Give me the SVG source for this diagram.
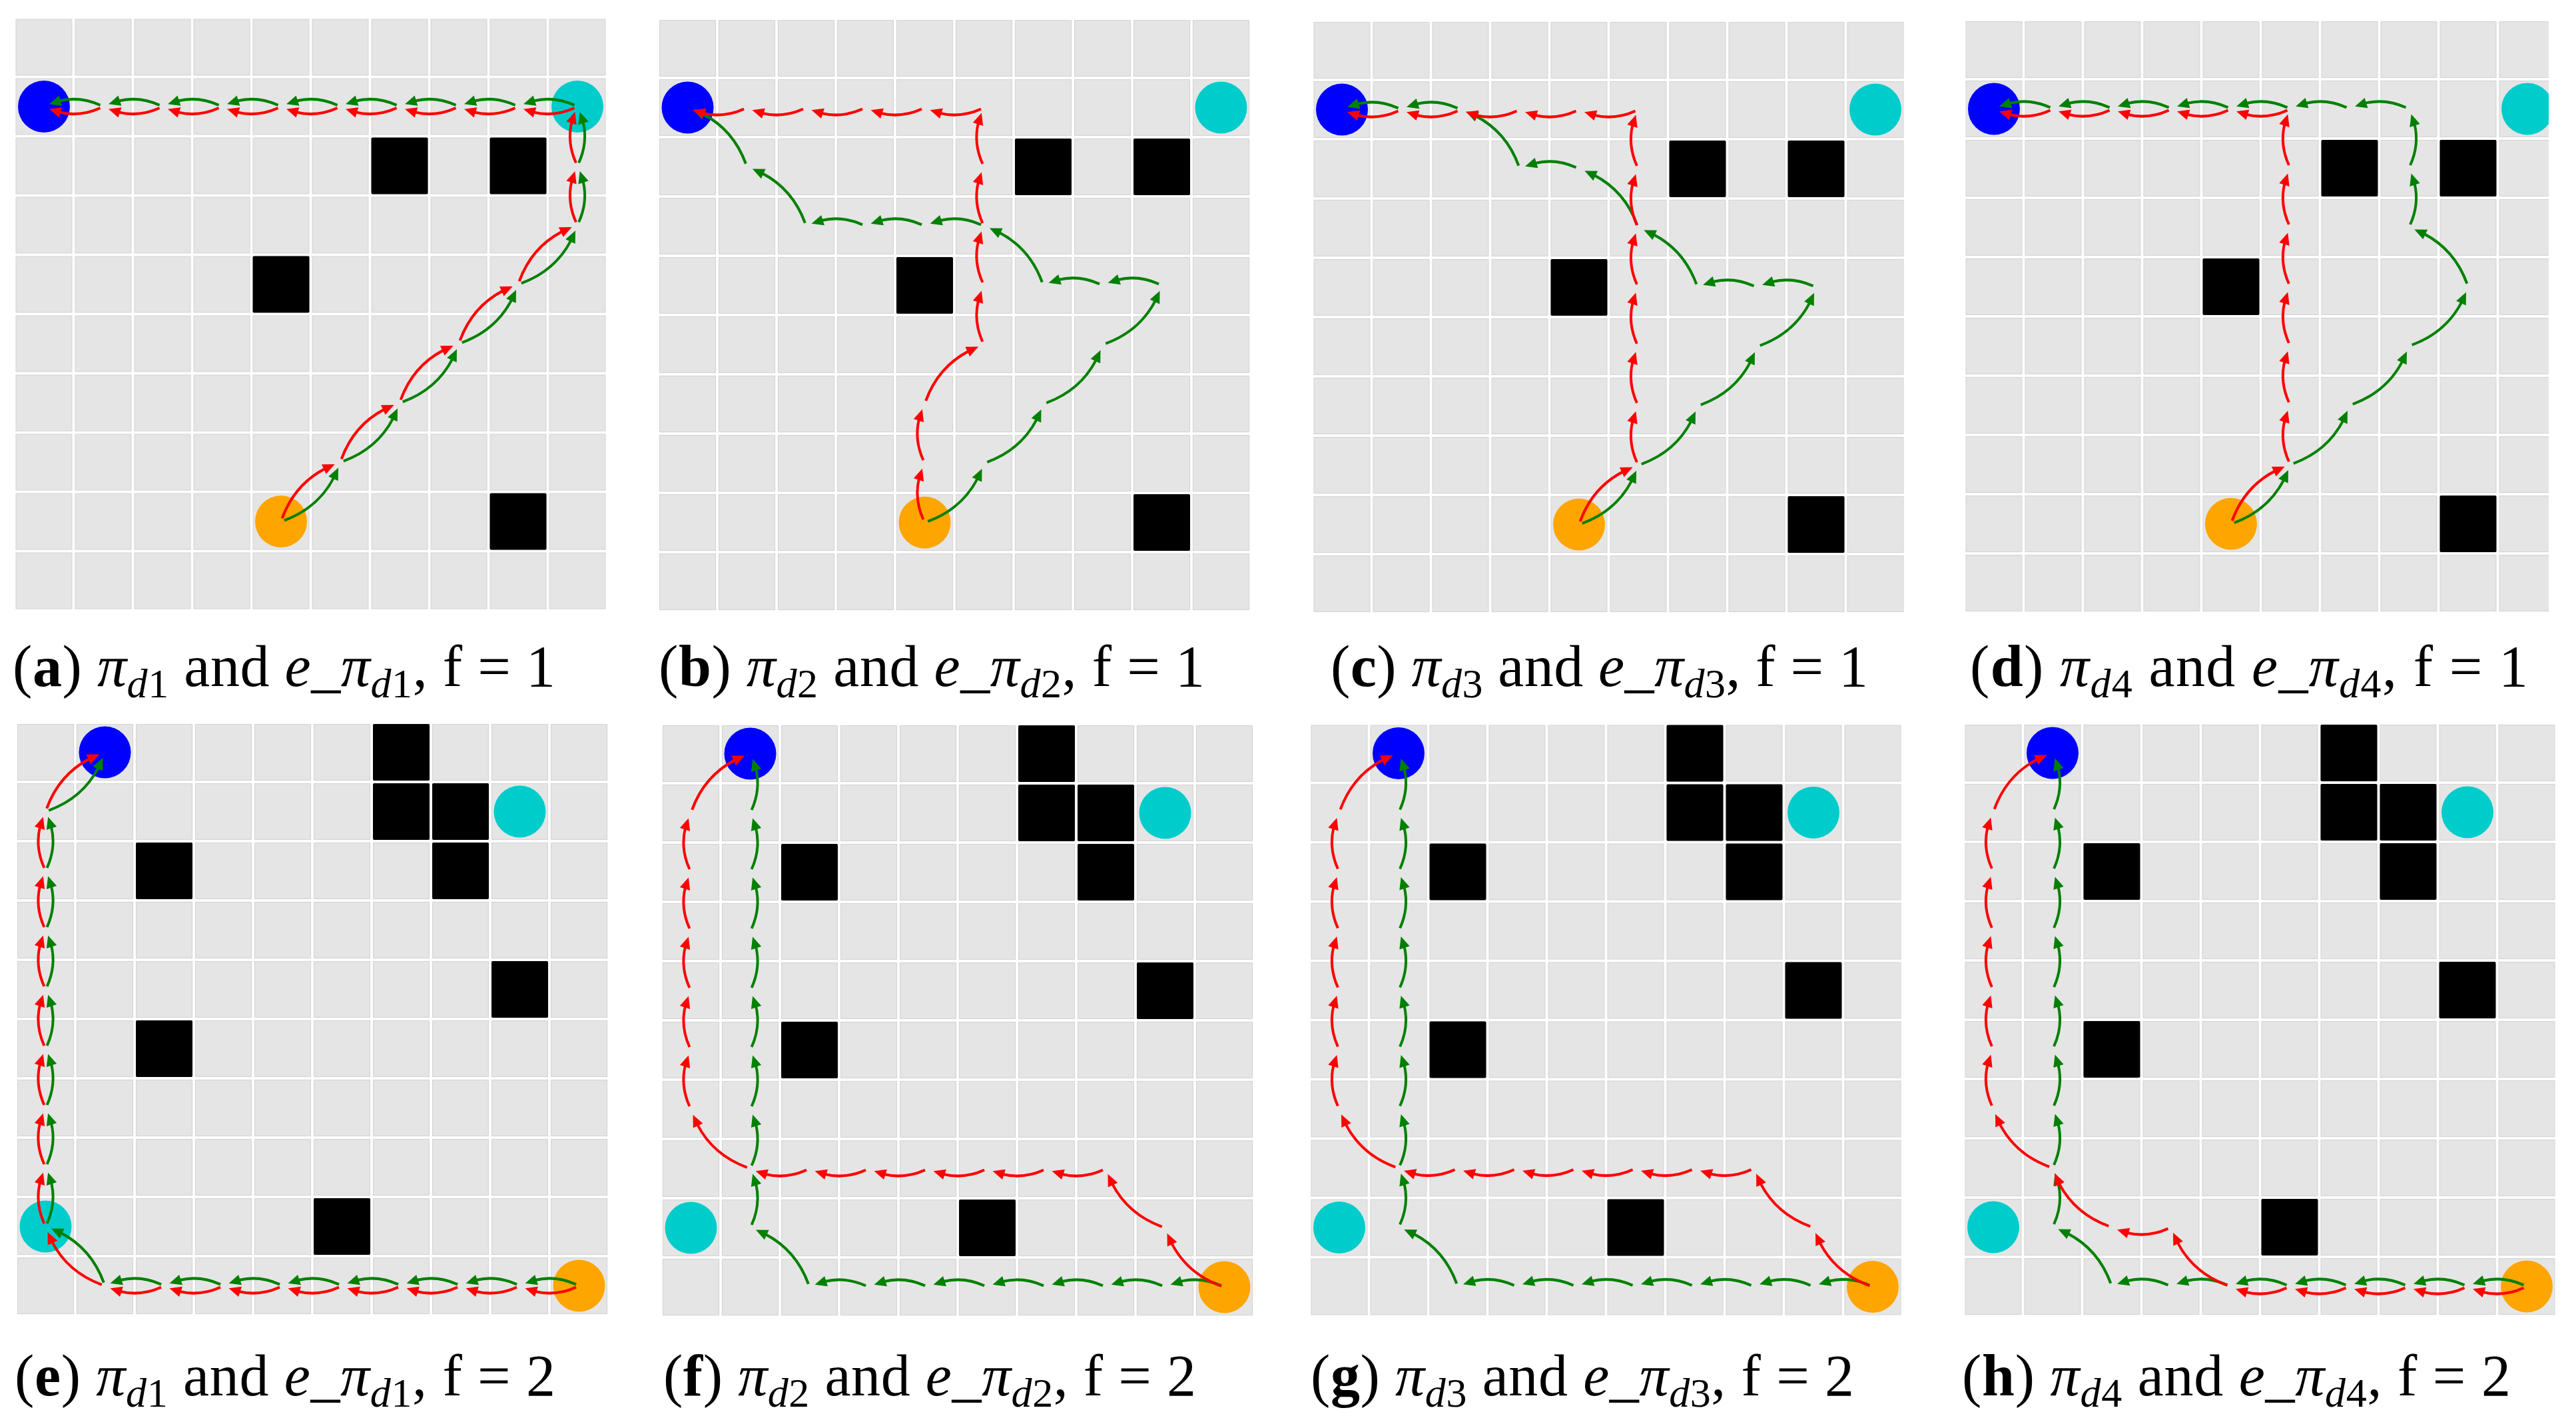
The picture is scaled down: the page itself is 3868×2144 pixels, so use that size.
<svg xmlns="http://www.w3.org/2000/svg" xmlns:xlink="http://www.w3.org/1999/xlink" width="3868" height="2144" viewBox="0 0 3868 2144">
<style>
.ob{fill:#000}
.blue{fill:#0000ff}
.cyan{fill:#00cccc}
.orange{fill:#ffa500}
.lr{fill:none;stroke:#ff0000;stroke-width:4}
.hr{fill:#ff0000}
.lg{fill:none;stroke:#008000;stroke-width:4}
.hg{fill:#008000}
.cap{font-family:"Liberation Serif","Times New Roman",serif;font-size:88px;fill:#000}
.sub{font-size:62px}
.it{font-style:italic}
.bf{font-weight:bold}
</style>
<defs>
<pattern id="cells" width="89" height="89" patternUnits="userSpaceOnUse"><rect x="2.5" y="2.5" width="84" height="84" fill="#e5e5e5" stroke="#d6d6d6" stroke-width="1.2"/></pattern>
<g id="or"><path class="lr" d="M4.45,-2.11Q35.15,-15.93 65.86,-8.56"/><path class="hr" d="M80.95,-3.66L66.4,-16.62L61.6,-1.36Z"/></g>
<g id="og"><path class="lg" d="M4.45,2.11Q35.15,15.93 65.86,8.56"/><path class="hg" d="M80.95,3.66L66.4,16.62L61.6,1.36Z"/></g>
<g id="dr"><path class="lr" d="M4.53,-2.18Q53.68,-24.99 102.86,-9.41"/><path class="hr" d="M117.84,-3.77L103.68,-17.52L98.14,-2.5Z"/></g>
<g id="dg"><path class="lg" d="M4.53,2.18Q53.68,24.99 102.86,9.41"/><path class="hg" d="M117.84,3.77L103.68,17.52L98.14,2.5Z"/></g>
<clipPath id="clipd"><rect x="-30" y="-30" width="907.5" height="960"/></clipPath>
</defs>
<rect width="3868" height="2144" fill="#fff"/>

<!-- Panel a -->
<g id="panel-a" transform="translate(21.5 26.5)">
<rect width="890" height="890" fill="url(#cells)"/>
<g id="a-obstacles"><rect class="ob" x="536" y="180" width="85" height="85" rx="2"/><rect class="ob" x="714" y="180" width="85" height="85" rx="2"/><rect class="ob" x="358" y="358" width="85" height="85" rx="2"/><rect class="ob" x="714" y="714" width="85" height="85" rx="2"/></g>
<g id="a-blue"><circle class="blue" cx="44.5" cy="133.5" r="39"/></g>
<g id="a-cyan"><circle class="cyan" cx="845.5" cy="133.5" r="39"/></g>
<g id="a-orange"><circle class="orange" cx="400.5" cy="756.5" r="39"/></g>
<g id="a-paths">
<use href="#dg" transform="translate(400.5 756.5) rotate(-45)"/>
<use href="#dg" transform="translate(489.5 667.5) rotate(-45)"/>
<use href="#dg" transform="translate(578.5 578.5) rotate(-45)"/>
<use href="#dg" transform="translate(667.5 489.5) rotate(-45)"/>
<use href="#dg" transform="translate(756.5 400.5) rotate(-45)"/>
<use href="#og" transform="translate(845.5 311.5) rotate(-90)"/>
<use href="#og" transform="translate(845.5 222.5) rotate(-90)"/>
<use href="#og" transform="translate(845.5 133.5) rotate(180)"/>
<use href="#og" transform="translate(756.5 133.5) rotate(180)"/>
<use href="#og" transform="translate(667.5 133.5) rotate(180)"/>
<use href="#og" transform="translate(578.5 133.5) rotate(180)"/>
<use href="#og" transform="translate(489.5 133.5) rotate(180)"/>
<use href="#og" transform="translate(400.5 133.5) rotate(180)"/>
<use href="#og" transform="translate(311.5 133.5) rotate(180)"/>
<use href="#og" transform="translate(222.5 133.5) rotate(180)"/>
<use href="#og" transform="translate(133.5 133.5) rotate(180)"/>
<use href="#dr" transform="translate(400.5 756.5) rotate(-45)"/>
<use href="#dr" transform="translate(489.5 667.5) rotate(-45)"/>
<use href="#dr" transform="translate(578.5 578.5) rotate(-45)"/>
<use href="#dr" transform="translate(667.5 489.5) rotate(-45)"/>
<use href="#dr" transform="translate(756.5 400.5) rotate(-45)"/>
<use href="#or" transform="translate(845.5 311.5) rotate(-90)"/>
<use href="#or" transform="translate(845.5 222.5) rotate(-90)"/>
<use href="#or" transform="translate(845.5 133.5) rotate(180)"/>
<use href="#or" transform="translate(756.5 133.5) rotate(180)"/>
<use href="#or" transform="translate(667.5 133.5) rotate(180)"/>
<use href="#or" transform="translate(578.5 133.5) rotate(180)"/>
<use href="#or" transform="translate(489.5 133.5) rotate(180)"/>
<use href="#or" transform="translate(400.5 133.5) rotate(180)"/>
<use href="#or" transform="translate(311.5 133.5) rotate(180)"/>
<use href="#or" transform="translate(222.5 133.5) rotate(180)"/>
<use href="#or" transform="translate(133.5 133.5) rotate(180)"/>
</g>
</g>

<!-- Panel b -->
<g id="panel-b" transform="translate(988 28)">
<rect width="890" height="890" fill="url(#cells)"/>
<g id="b-obstacles"><rect class="ob" x="536" y="180" width="85" height="85" rx="2"/><rect class="ob" x="714" y="180" width="85" height="85" rx="2"/><rect class="ob" x="358" y="358" width="85" height="85" rx="2"/><rect class="ob" x="714" y="714" width="85" height="85" rx="2"/></g>
<g id="b-blue"><circle class="blue" cx="44.5" cy="133.5" r="39"/></g>
<g id="b-cyan"><circle class="cyan" cx="845.5" cy="133.5" r="39"/></g>
<g id="b-orange"><circle class="orange" cx="400.5" cy="756.5" r="39"/></g>
<g id="b-paths">
<use href="#dg" transform="translate(400.5 756.5) rotate(-45)"/>
<use href="#dg" transform="translate(489.5 667.5) rotate(-45)"/>
<use href="#dg" transform="translate(578.5 578.5) rotate(-45)"/>
<use href="#dg" transform="translate(667.5 489.5) rotate(-45)"/>
<use href="#og" transform="translate(756.5 400.5) rotate(180)"/>
<use href="#og" transform="translate(667.5 400.5) rotate(180)"/>
<use href="#dg" transform="translate(578.5 400.5) rotate(-135)"/>
<use href="#og" transform="translate(489.5 311.5) rotate(180)"/>
<use href="#og" transform="translate(400.5 311.5) rotate(180)"/>
<use href="#og" transform="translate(311.5 311.5) rotate(180)"/>
<use href="#dg" transform="translate(222.5 311.5) rotate(-135)"/>
<use href="#dg" transform="translate(133.5 222.5) rotate(-135)"/>
<use href="#or" transform="translate(400.5 756.5) rotate(-90)"/>
<use href="#or" transform="translate(400.5 667.5) rotate(-90)"/>
<use href="#dr" transform="translate(400.5 578.5) rotate(-45)"/>
<use href="#or" transform="translate(489.5 489.5) rotate(-90)"/>
<use href="#or" transform="translate(489.5 400.5) rotate(-90)"/>
<use href="#or" transform="translate(489.5 311.5) rotate(-90)"/>
<use href="#or" transform="translate(489.5 222.5) rotate(-90)"/>
<use href="#or" transform="translate(489.5 133.5) rotate(180)"/>
<use href="#or" transform="translate(400.5 133.5) rotate(180)"/>
<use href="#or" transform="translate(311.5 133.5) rotate(180)"/>
<use href="#or" transform="translate(222.5 133.5) rotate(180)"/>
<use href="#or" transform="translate(133.5 133.5) rotate(180)"/>
</g>
</g>

<!-- Panel c -->
<g id="panel-c" transform="translate(1970.5 31)">
<rect width="890" height="890" fill="url(#cells)"/>
<g id="c-obstacles"><rect class="ob" x="536" y="180" width="85" height="85" rx="2"/><rect class="ob" x="714" y="180" width="85" height="85" rx="2"/><rect class="ob" x="358" y="358" width="85" height="85" rx="2"/><rect class="ob" x="714" y="714" width="85" height="85" rx="2"/></g>
<g id="c-blue"><circle class="blue" cx="44.5" cy="133.5" r="39"/></g>
<g id="c-cyan"><circle class="cyan" cx="845.5" cy="133.5" r="39"/></g>
<g id="c-orange"><circle class="orange" cx="400.5" cy="756.5" r="39"/></g>
<g id="c-paths">
<use href="#dg" transform="translate(400.5 756.5) rotate(-45)"/>
<use href="#dg" transform="translate(489.5 667.5) rotate(-45)"/>
<use href="#dg" transform="translate(578.5 578.5) rotate(-45)"/>
<use href="#dg" transform="translate(667.5 489.5) rotate(-45)"/>
<use href="#og" transform="translate(756.5 400.5) rotate(180)"/>
<use href="#og" transform="translate(667.5 400.5) rotate(180)"/>
<use href="#dg" transform="translate(578.5 400.5) rotate(-135)"/>
<use href="#dg" transform="translate(489.5 311.5) rotate(-135)"/>
<use href="#og" transform="translate(400.5 222.5) rotate(180)"/>
<use href="#dg" transform="translate(311.5 222.5) rotate(-135)"/>
<use href="#og" transform="translate(222.5 133.5) rotate(180)"/>
<use href="#og" transform="translate(133.5 133.5) rotate(180)"/>
<use href="#dr" transform="translate(400.5 756.5) rotate(-45)"/>
<use href="#or" transform="translate(489.5 667.5) rotate(-90)"/>
<use href="#or" transform="translate(489.5 578.5) rotate(-90)"/>
<use href="#or" transform="translate(489.5 489.5) rotate(-90)"/>
<use href="#or" transform="translate(489.5 400.5) rotate(-90)"/>
<use href="#or" transform="translate(489.5 311.5) rotate(-90)"/>
<use href="#or" transform="translate(489.5 222.5) rotate(-90)"/>
<use href="#or" transform="translate(489.5 133.5) rotate(180)"/>
<use href="#or" transform="translate(400.5 133.5) rotate(180)"/>
<use href="#or" transform="translate(311.5 133.5) rotate(180)"/>
<use href="#or" transform="translate(222.5 133.5) rotate(180)"/>
<use href="#or" transform="translate(133.5 133.5) rotate(180)"/>
</g>
</g>

<!-- Panel d -->
<g id="panel-d" transform="translate(2949.5 30)" clip-path="url(#clipd)">
<rect width="890" height="890" fill="url(#cells)"/>
<g id="d-obstacles"><rect class="ob" x="536" y="180" width="85" height="85" rx="2"/><rect class="ob" x="714" y="180" width="85" height="85" rx="2"/><rect class="ob" x="358" y="358" width="85" height="85" rx="2"/><rect class="ob" x="714" y="714" width="85" height="85" rx="2"/></g>
<g id="d-blue"><circle class="blue" cx="44.5" cy="133.5" r="39"/></g>
<g id="d-cyan"><circle class="cyan" cx="845.5" cy="133.5" r="39"/></g>
<g id="d-orange"><circle class="orange" cx="400.5" cy="756.5" r="39"/></g>
<g id="d-paths">
<use href="#dg" transform="translate(400.5 756.5) rotate(-45)"/>
<use href="#dg" transform="translate(489.5 667.5) rotate(-45)"/>
<use href="#dg" transform="translate(578.5 578.5) rotate(-45)"/>
<use href="#dg" transform="translate(667.5 489.5) rotate(-45)"/>
<use href="#dg" transform="translate(756.5 400.5) rotate(-135)"/>
<use href="#og" transform="translate(667.5 311.5) rotate(-90)"/>
<use href="#og" transform="translate(667.5 222.5) rotate(-90)"/>
<use href="#og" transform="translate(667.5 133.5) rotate(180)"/>
<use href="#og" transform="translate(578.5 133.5) rotate(180)"/>
<use href="#og" transform="translate(489.5 133.5) rotate(180)"/>
<use href="#og" transform="translate(400.5 133.5) rotate(180)"/>
<use href="#og" transform="translate(311.5 133.5) rotate(180)"/>
<use href="#og" transform="translate(222.5 133.5) rotate(180)"/>
<use href="#og" transform="translate(133.5 133.5) rotate(180)"/>
<use href="#dr" transform="translate(400.5 756.5) rotate(-45)"/>
<use href="#or" transform="translate(489.5 667.5) rotate(-90)"/>
<use href="#or" transform="translate(489.5 578.5) rotate(-90)"/>
<use href="#or" transform="translate(489.5 489.5) rotate(-90)"/>
<use href="#or" transform="translate(489.5 400.5) rotate(-90)"/>
<use href="#or" transform="translate(489.5 311.5) rotate(-90)"/>
<use href="#or" transform="translate(489.5 222.5) rotate(-90)"/>
<use href="#or" transform="translate(489.5 133.5) rotate(180)"/>
<use href="#or" transform="translate(400.5 133.5) rotate(180)"/>
<use href="#or" transform="translate(311.5 133.5) rotate(180)"/>
<use href="#or" transform="translate(222.5 133.5) rotate(180)"/>
<use href="#or" transform="translate(133.5 133.5) rotate(180)"/>
</g>
</g>

<!-- Panel e -->
<g id="panel-e" transform="translate(24 1085)">
<rect width="890" height="890" fill="url(#cells)"/>
<g id="e-obstacles"><rect class="ob" x="536" y="2" width="85" height="85" rx="2"/><rect class="ob" x="536" y="91" width="85" height="85" rx="2"/><rect class="ob" x="625" y="91" width="85" height="85" rx="2"/><rect class="ob" x="625" y="180" width="85" height="85" rx="2"/><rect class="ob" x="180" y="180" width="85" height="85" rx="2"/><rect class="ob" x="714" y="358" width="85" height="85" rx="2"/><rect class="ob" x="180" y="447" width="85" height="85" rx="2"/><rect class="ob" x="447" y="714" width="85" height="85" rx="2"/></g>
<g id="e-blue"><circle class="blue" cx="133.5" cy="44.5" r="39"/></g>
<g id="e-cyan1"><circle class="cyan" cx="756.5" cy="133.5" r="39"/></g>
<g id="e-cyan2"><circle class="cyan" cx="44.5" cy="756.5" r="39"/></g>
<g id="e-orange"><circle class="orange" cx="845.5" cy="845.5" r="39"/></g>
<g id="e-paths">
<use href="#og" transform="translate(845.5 845.5) rotate(180)"/>
<use href="#og" transform="translate(756.5 845.5) rotate(180)"/>
<use href="#og" transform="translate(667.5 845.5) rotate(180)"/>
<use href="#og" transform="translate(578.5 845.5) rotate(180)"/>
<use href="#og" transform="translate(489.5 845.5) rotate(180)"/>
<use href="#og" transform="translate(400.5 845.5) rotate(180)"/>
<use href="#og" transform="translate(311.5 845.5) rotate(180)"/>
<use href="#og" transform="translate(222.5 845.5) rotate(180)"/>
<use href="#dg" transform="translate(133.5 845.5) rotate(-135)"/>
<use href="#og" transform="translate(44.5 756.5) rotate(-90)"/>
<use href="#og" transform="translate(44.5 667.5) rotate(-90)"/>
<use href="#og" transform="translate(44.5 578.5) rotate(-90)"/>
<use href="#og" transform="translate(44.5 489.5) rotate(-90)"/>
<use href="#og" transform="translate(44.5 400.5) rotate(-90)"/>
<use href="#og" transform="translate(44.5 311.5) rotate(-90)"/>
<use href="#og" transform="translate(44.5 222.5) rotate(-90)"/>
<use href="#dg" transform="translate(44.5 133.5) rotate(-45)"/>
<use href="#or" transform="translate(845.5 845.5) rotate(180)"/>
<use href="#or" transform="translate(756.5 845.5) rotate(180)"/>
<use href="#or" transform="translate(667.5 845.5) rotate(180)"/>
<use href="#or" transform="translate(578.5 845.5) rotate(180)"/>
<use href="#or" transform="translate(489.5 845.5) rotate(180)"/>
<use href="#or" transform="translate(400.5 845.5) rotate(180)"/>
<use href="#or" transform="translate(311.5 845.5) rotate(180)"/>
<use href="#or" transform="translate(222.5 845.5) rotate(180)"/>
<use href="#dr" transform="translate(133.5 845.5) rotate(-135)"/>
<use href="#or" transform="translate(44.5 756.5) rotate(-90)"/>
<use href="#or" transform="translate(44.5 667.5) rotate(-90)"/>
<use href="#or" transform="translate(44.5 578.5) rotate(-90)"/>
<use href="#or" transform="translate(44.5 489.5) rotate(-90)"/>
<use href="#or" transform="translate(44.5 400.5) rotate(-90)"/>
<use href="#or" transform="translate(44.5 311.5) rotate(-90)"/>
<use href="#or" transform="translate(44.5 222.5) rotate(-90)"/>
<use href="#dr" transform="translate(44.5 133.5) rotate(-45)"/>
</g>
</g>

<!-- Panel f -->
<g id="panel-f" transform="translate(993 1087)">
<rect width="890" height="890" fill="url(#cells)"/>
<g id="f-obstacles"><rect class="ob" x="536" y="2" width="85" height="85" rx="2"/><rect class="ob" x="536" y="91" width="85" height="85" rx="2"/><rect class="ob" x="625" y="91" width="85" height="85" rx="2"/><rect class="ob" x="625" y="180" width="85" height="85" rx="2"/><rect class="ob" x="180" y="180" width="85" height="85" rx="2"/><rect class="ob" x="714" y="358" width="85" height="85" rx="2"/><rect class="ob" x="180" y="447" width="85" height="85" rx="2"/><rect class="ob" x="447" y="714" width="85" height="85" rx="2"/></g>
<g id="f-blue"><circle class="blue" cx="133.5" cy="44.5" r="39"/></g>
<g id="f-cyan1"><circle class="cyan" cx="756.5" cy="133.5" r="39"/></g>
<g id="f-cyan2"><circle class="cyan" cx="44.5" cy="756.5" r="39"/></g>
<g id="f-orange"><circle class="orange" cx="845.5" cy="845.5" r="39"/></g>
<g id="f-paths">
<use href="#og" transform="translate(845.5 845.5) rotate(180)"/>
<use href="#og" transform="translate(756.5 845.5) rotate(180)"/>
<use href="#og" transform="translate(667.5 845.5) rotate(180)"/>
<use href="#og" transform="translate(578.5 845.5) rotate(180)"/>
<use href="#og" transform="translate(489.5 845.5) rotate(180)"/>
<use href="#og" transform="translate(400.5 845.5) rotate(180)"/>
<use href="#og" transform="translate(311.5 845.5) rotate(180)"/>
<use href="#dg" transform="translate(222.5 845.5) rotate(-135)"/>
<use href="#og" transform="translate(133.5 756.5) rotate(-90)"/>
<use href="#og" transform="translate(133.5 667.5) rotate(-90)"/>
<use href="#og" transform="translate(133.5 578.5) rotate(-90)"/>
<use href="#og" transform="translate(133.5 489.5) rotate(-90)"/>
<use href="#og" transform="translate(133.5 400.5) rotate(-90)"/>
<use href="#og" transform="translate(133.5 311.5) rotate(-90)"/>
<use href="#og" transform="translate(133.5 222.5) rotate(-90)"/>
<use href="#og" transform="translate(133.5 133.5) rotate(-90)"/>
<use href="#dr" transform="translate(845.5 845.5) rotate(-135)"/>
<use href="#dr" transform="translate(756.5 756.5) rotate(-135)"/>
<use href="#or" transform="translate(667.5 667.5) rotate(180)"/>
<use href="#or" transform="translate(578.5 667.5) rotate(180)"/>
<use href="#or" transform="translate(489.5 667.5) rotate(180)"/>
<use href="#or" transform="translate(400.5 667.5) rotate(180)"/>
<use href="#or" transform="translate(311.5 667.5) rotate(180)"/>
<use href="#or" transform="translate(222.5 667.5) rotate(180)"/>
<use href="#dr" transform="translate(133.5 667.5) rotate(-135)"/>
<use href="#or" transform="translate(44.5 578.5) rotate(-90)"/>
<use href="#or" transform="translate(44.5 489.5) rotate(-90)"/>
<use href="#or" transform="translate(44.5 400.5) rotate(-90)"/>
<use href="#or" transform="translate(44.5 311.5) rotate(-90)"/>
<use href="#or" transform="translate(44.5 222.5) rotate(-90)"/>
<use href="#dr" transform="translate(44.5 133.5) rotate(-45)"/>
</g>
</g>

<!-- Panel g -->
<g id="panel-g" transform="translate(1966.5 1086.5)">
<rect width="890" height="890" fill="url(#cells)"/>
<g id="g-obstacles"><rect class="ob" x="536" y="2" width="85" height="85" rx="2"/><rect class="ob" x="536" y="91" width="85" height="85" rx="2"/><rect class="ob" x="625" y="91" width="85" height="85" rx="2"/><rect class="ob" x="625" y="180" width="85" height="85" rx="2"/><rect class="ob" x="180" y="180" width="85" height="85" rx="2"/><rect class="ob" x="714" y="358" width="85" height="85" rx="2"/><rect class="ob" x="180" y="447" width="85" height="85" rx="2"/><rect class="ob" x="447" y="714" width="85" height="85" rx="2"/></g>
<g id="g-blue"><circle class="blue" cx="133.5" cy="44.5" r="39"/></g>
<g id="g-cyan1"><circle class="cyan" cx="756.5" cy="133.5" r="39"/></g>
<g id="g-cyan2"><circle class="cyan" cx="44.5" cy="756.5" r="39"/></g>
<g id="g-orange"><circle class="orange" cx="845.5" cy="845.5" r="39"/></g>
<g id="g-paths">
<use href="#og" transform="translate(845.5 845.5) rotate(180)"/>
<use href="#og" transform="translate(756.5 845.5) rotate(180)"/>
<use href="#og" transform="translate(667.5 845.5) rotate(180)"/>
<use href="#og" transform="translate(578.5 845.5) rotate(180)"/>
<use href="#og" transform="translate(489.5 845.5) rotate(180)"/>
<use href="#og" transform="translate(400.5 845.5) rotate(180)"/>
<use href="#og" transform="translate(311.5 845.5) rotate(180)"/>
<use href="#dg" transform="translate(222.5 845.5) rotate(-135)"/>
<use href="#og" transform="translate(133.5 756.5) rotate(-90)"/>
<use href="#og" transform="translate(133.5 667.5) rotate(-90)"/>
<use href="#og" transform="translate(133.5 578.5) rotate(-90)"/>
<use href="#og" transform="translate(133.5 489.5) rotate(-90)"/>
<use href="#og" transform="translate(133.5 400.5) rotate(-90)"/>
<use href="#og" transform="translate(133.5 311.5) rotate(-90)"/>
<use href="#og" transform="translate(133.5 222.5) rotate(-90)"/>
<use href="#og" transform="translate(133.5 133.5) rotate(-90)"/>
<use href="#dr" transform="translate(845.5 845.5) rotate(-135)"/>
<use href="#dr" transform="translate(756.5 756.5) rotate(-135)"/>
<use href="#or" transform="translate(667.5 667.5) rotate(180)"/>
<use href="#or" transform="translate(578.5 667.5) rotate(180)"/>
<use href="#or" transform="translate(489.5 667.5) rotate(180)"/>
<use href="#or" transform="translate(400.5 667.5) rotate(180)"/>
<use href="#or" transform="translate(311.5 667.5) rotate(180)"/>
<use href="#or" transform="translate(222.5 667.5) rotate(180)"/>
<use href="#dr" transform="translate(133.5 667.5) rotate(-135)"/>
<use href="#or" transform="translate(44.5 578.5) rotate(-90)"/>
<use href="#or" transform="translate(44.5 489.5) rotate(-90)"/>
<use href="#or" transform="translate(44.5 400.5) rotate(-90)"/>
<use href="#or" transform="translate(44.5 311.5) rotate(-90)"/>
<use href="#or" transform="translate(44.5 222.5) rotate(-90)"/>
<use href="#dr" transform="translate(44.5 133.5) rotate(-45)"/>
</g>
</g>

<!-- Panel h -->
<g id="panel-h" transform="translate(2948.5 1086)">
<rect width="890" height="890" fill="url(#cells)"/>
<g id="h-obstacles"><rect class="ob" x="536" y="2" width="85" height="85" rx="2"/><rect class="ob" x="536" y="91" width="85" height="85" rx="2"/><rect class="ob" x="625" y="91" width="85" height="85" rx="2"/><rect class="ob" x="625" y="180" width="85" height="85" rx="2"/><rect class="ob" x="180" y="180" width="85" height="85" rx="2"/><rect class="ob" x="714" y="358" width="85" height="85" rx="2"/><rect class="ob" x="180" y="447" width="85" height="85" rx="2"/><rect class="ob" x="447" y="714" width="85" height="85" rx="2"/></g>
<g id="h-blue"><circle class="blue" cx="133.5" cy="44.5" r="39"/></g>
<g id="h-cyan1"><circle class="cyan" cx="756.5" cy="133.5" r="39"/></g>
<g id="h-cyan2"><circle class="cyan" cx="44.5" cy="756.5" r="39"/></g>
<g id="h-orange"><circle class="orange" cx="845.5" cy="845.5" r="39"/></g>
<g id="h-paths">
<use href="#og" transform="translate(845.5 845.5) rotate(180)"/>
<use href="#og" transform="translate(756.5 845.5) rotate(180)"/>
<use href="#og" transform="translate(667.5 845.5) rotate(180)"/>
<use href="#og" transform="translate(578.5 845.5) rotate(180)"/>
<use href="#og" transform="translate(489.5 845.5) rotate(180)"/>
<use href="#og" transform="translate(400.5 845.5) rotate(180)"/>
<use href="#og" transform="translate(311.5 845.5) rotate(180)"/>
<use href="#dg" transform="translate(222.5 845.5) rotate(-135)"/>
<use href="#og" transform="translate(133.5 756.5) rotate(-90)"/>
<use href="#og" transform="translate(133.5 667.5) rotate(-90)"/>
<use href="#og" transform="translate(133.5 578.5) rotate(-90)"/>
<use href="#og" transform="translate(133.5 489.5) rotate(-90)"/>
<use href="#og" transform="translate(133.5 400.5) rotate(-90)"/>
<use href="#og" transform="translate(133.5 311.5) rotate(-90)"/>
<use href="#og" transform="translate(133.5 222.5) rotate(-90)"/>
<use href="#og" transform="translate(133.5 133.5) rotate(-90)"/>
<use href="#or" transform="translate(845.5 845.5) rotate(180)"/>
<use href="#or" transform="translate(756.5 845.5) rotate(180)"/>
<use href="#or" transform="translate(667.5 845.5) rotate(180)"/>
<use href="#or" transform="translate(578.5 845.5) rotate(180)"/>
<use href="#or" transform="translate(489.5 845.5) rotate(180)"/>
<use href="#dr" transform="translate(400.5 845.5) rotate(-135)"/>
<use href="#or" transform="translate(311.5 756.5) rotate(180)"/>
<use href="#dr" transform="translate(222.5 756.5) rotate(-135)"/>
<use href="#dr" transform="translate(133.5 667.5) rotate(-135)"/>
<use href="#or" transform="translate(44.5 578.5) rotate(-90)"/>
<use href="#or" transform="translate(44.5 489.5) rotate(-90)"/>
<use href="#or" transform="translate(44.5 400.5) rotate(-90)"/>
<use href="#or" transform="translate(44.5 311.5) rotate(-90)"/>
<use href="#or" transform="translate(44.5 222.5) rotate(-90)"/>
<use href="#dr" transform="translate(44.5 133.5) rotate(-45)"/>
</g>
</g>

<!-- Captions -->
<g id="captions">
<text class="cap" x="19" y="1030" textLength="815">(<tspan class="bf">a</tspan>) <tspan class="it">π</tspan><tspan class="sub" dy="17"><tspan class="it">d</tspan>1</tspan><tspan dy="-17"> and </tspan><tspan class="it">e</tspan>_<tspan class="it">π</tspan><tspan class="sub" dy="17"><tspan class="it">d</tspan>1</tspan><tspan dy="-17">, f = 1</tspan></text>
<text class="cap" x="989" y="1030" textLength="820">(<tspan class="bf">b</tspan>) <tspan class="it">π</tspan><tspan class="sub" dy="17"><tspan class="it">d</tspan>2</tspan><tspan dy="-17"> and </tspan><tspan class="it">e</tspan>_<tspan class="it">π</tspan><tspan class="sub" dy="17"><tspan class="it">d</tspan>2</tspan><tspan dy="-17">, f = 1</tspan></text>
<text class="cap" x="1998" y="1030" textLength="807">(<tspan class="bf">c</tspan>) <tspan class="it">π</tspan><tspan class="sub" dy="17"><tspan class="it">d</tspan>3</tspan><tspan dy="-17"> and </tspan><tspan class="it">e</tspan>_<tspan class="it">π</tspan><tspan class="sub" dy="17"><tspan class="it">d</tspan>3</tspan><tspan dy="-17">, f = 1</tspan></text>
<text class="cap" x="2958" y="1030" textLength="838">(<tspan class="bf">d</tspan>) <tspan class="it">π</tspan><tspan class="sub" dy="17"><tspan class="it">d</tspan>4</tspan><tspan dy="-17"> and </tspan><tspan class="it">e</tspan>_<tspan class="it">π</tspan><tspan class="sub" dy="17"><tspan class="it">d</tspan>4</tspan><tspan dy="-17">, f = 1</tspan></text>
<text class="cap" x="22" y="2095" textLength="812">(<tspan class="bf">e</tspan>) <tspan class="it">π</tspan><tspan class="sub" dy="17"><tspan class="it">d</tspan>1</tspan><tspan dy="-17"> and </tspan><tspan class="it">e</tspan>_<tspan class="it">π</tspan><tspan class="sub" dy="17"><tspan class="it">d</tspan>1</tspan><tspan dy="-17">, f = 2</tspan></text>
<text class="cap" x="996" y="2095" textLength="800">(<tspan class="bf">f</tspan>) <tspan class="it">π</tspan><tspan class="sub" dy="17"><tspan class="it">d</tspan>2</tspan><tspan dy="-17"> and </tspan><tspan class="it">e</tspan>_<tspan class="it">π</tspan><tspan class="sub" dy="17"><tspan class="it">d</tspan>2</tspan><tspan dy="-17">, f = 2</tspan></text>
<text class="cap" x="1968" y="2095" textLength="816">(<tspan class="bf">g</tspan>) <tspan class="it">π</tspan><tspan class="sub" dy="17"><tspan class="it">d</tspan>3</tspan><tspan dy="-17"> and </tspan><tspan class="it">e</tspan>_<tspan class="it">π</tspan><tspan class="sub" dy="17"><tspan class="it">d</tspan>3</tspan><tspan dy="-17">, f = 2</tspan></text>
<text class="cap" x="2946" y="2095" textLength="824">(<tspan class="bf">h</tspan>) <tspan class="it">π</tspan><tspan class="sub" dy="17"><tspan class="it">d</tspan>4</tspan><tspan dy="-17"> and </tspan><tspan class="it">e</tspan>_<tspan class="it">π</tspan><tspan class="sub" dy="17"><tspan class="it">d</tspan>4</tspan><tspan dy="-17">, f = 2</tspan></text>
</g>
</svg>
